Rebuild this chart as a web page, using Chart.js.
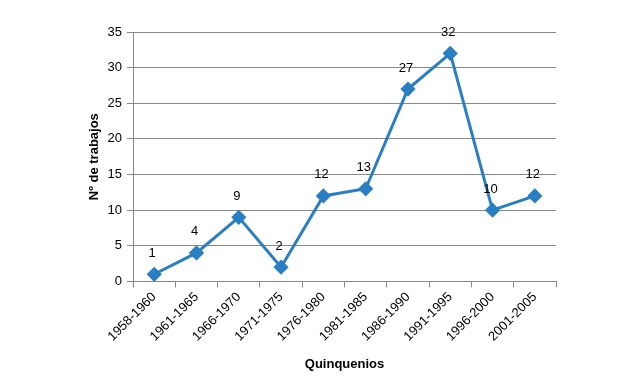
<!DOCTYPE html>
<html>
<head>
<meta charset="utf-8">
<script src="https://cdn.jsdelivr.net/npm/chart.js@4"></script>
<style>
html,body{margin:0;padding:0;background:#fff;}
#wrap{width:644px;height:388px;}
</style>
</head>
<body>
<div id="wrap"><canvas id="c" width="644" height="388"></canvas></div>
<script>
const categories = ["1958-1960","1961-1965","1966-1970","1971-1975","1976-1980","1981-1985","1986-1990","1991-1995","1996-2000","2001-2005"];
const trabajos = [1,4,9,2,12,13,27,32,10,12];
const yTicks = [0,5,10,15,20,25,30,35];

const FONT = "'Liberation Sans', Arial, sans-serif";
const BLUE = "#2A7EC3";

const labelPlugin = {
  id: 'pointLabels',
  afterDatasetsDraw(chart) {
    const ctx = chart.ctx;
    const meta = chart.getDatasetMeta(0);
    ctx.save();
    ctx.font = "13px " + FONT;
    ctx.fillStyle = "#000";
    ctx.textAlign = "center";
    ctx.textBaseline = "middle";
    meta.data.forEach((pt, i) => {
      ctx.fillText(String(trabajos[i]), pt.x - 2, pt.y - 21);
    });
    ctx.restore();
  }
};

new Chart(document.getElementById('c'), {
  type: 'line',
  data: {
    labels: categories,
    datasets: [{
      data: trabajos,
      borderColor: BLUE,
      backgroundColor: BLUE,
      borderWidth: 3,
      pointStyle: 'rectRot',
      pointRadius: 5.5,
      pointHoverRadius: 5.5,
      tension: 0
    }]
  },
  options: {
    responsive: false,
    animation: false,
    events: [],
    layout: { padding: { top: 32, right: 88, left: 87, bottom: 12 } },
    plugins: { legend: { display: false }, tooltip: { enabled: false } },
    scales: {
      x: {
        offset: true,
        grid: { offset: true, drawOnChartArea: false, drawTicks: true, tickLength: 6, color: '#888' },
        border: { color: '#888', width: 1 },
        ticks: { minRotation: 45, maxRotation: 45, color: '#000', font: { family: FONT, size: 13 }, padding: 2 },
        title: { display: true, text: 'Quinquenios', color: '#000', font: { family: FONT, size: 13, weight: 'bold' }, padding: { top: 10 } }
      },
      y: {
        min: 0, max: 35,
        afterBuildTicks(scale) { scale.ticks = yTicks.map(v => ({ value: v })); },
        grid: { color: '#888', tickLength: 6, lineWidth: 1 },
        border: { color: '#888', width: 1 },
        ticks: { color: '#000', font: { family: FONT, size: 13 }, padding: 5 },
        title: { display: true, text: 'Nº de trabajos', color: '#000', font: { family: FONT, size: 13, weight: 'bold' }, padding: { bottom: 0, top: 0 } }
      }
    }
  },
  plugins: [labelPlugin]
});
</script>
</body>
</html>
